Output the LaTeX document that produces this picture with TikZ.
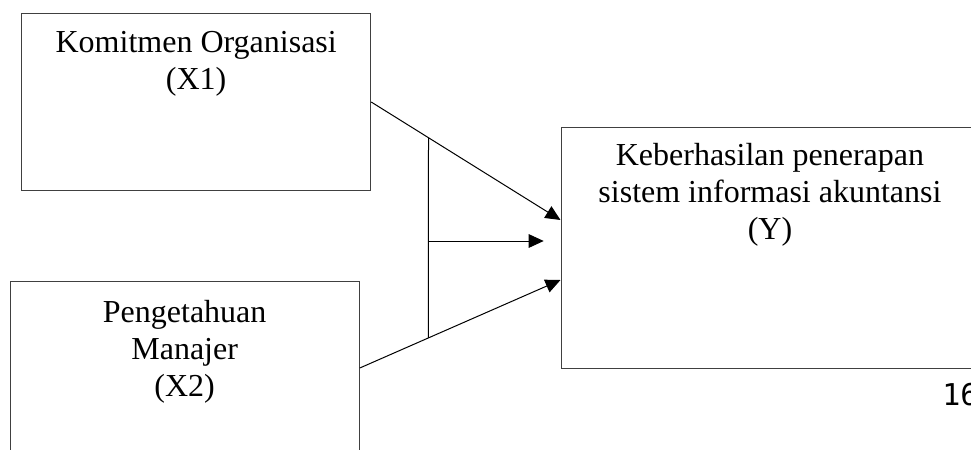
\documentclass[tikz,border=0pt]{standalone}
\usepackage{fontspec}
\setmainfont{Liberation Serif}
\newfontfamily\pagefont{DejaVu Sans Mono}
\usetikzlibrary{arrows.meta,positioning}
\tikzset{
  varbox/.style={draw=black!75,line width=0.5pt,inner sep=0pt},
  vartext/.style={anchor=north,align=center,inner sep=0pt,font=\fontsize{16}{18.5}\selectfont},
  link/.style={draw,line width=0.5pt,-{Triangle[length=7.5pt,width=6.8pt]}},
  bar/.style={draw,line width=0.5pt},
}
\begin{document}
\begin{tikzpicture}[x=0.5pt,y=-0.5pt]
\useasboundingbox (0,0) rectangle (971,450);
\clip (0,0) rectangle (971,450);
\node[varbox,minimum width=174.5pt,minimum height=88.7pt] (komitmen) at (196.2,102) {};
\node[vartext] (komitmentext) at ([yshift=-9pt]komitmen.north) {Komitmen Organisasi\\(X1)};
\node[varbox,minimum width=174.65pt,minimum height=86.3pt] (pengetahuan) at (184.65,368) {};
\node[vartext] (pengetahuantext) at ([yshift=-9.2pt]pengetahuan.north) {Pengetahuan\\Manajer\\(X2)};
\node[varbox,minimum width=209pt,minimum height=120.5pt] (sia) at (770,247.8) {};
\node[vartext] (siatext) at ([yshift=-8pt]sia.north) {Keberhasilan penerapan\\sistem informasi akuntansi\\(Y)};
\coordinate (siatop) at ([yshift=13.9pt]sia.west);
\coordinate (siamid) at ([xshift=-8.4pt,yshift=3.4pt]sia.west);
\coordinate (siabot) at ([yshift=-16.1pt]sia.west);
\draw[link] (komitmen.east) -- coordinate[pos=0.3027] (komitmenbar) (siatop);
\draw[link] (pengetahuan.east) -- coordinate[pos=0.342] (pengetahuanbar) (siabot);
\draw[bar] (komitmenbar) -- (pengetahuanbar);
\draw[link] (komitmenbar |- siamid) -- (siamid);
\node[anchor=base west,inner sep=0pt,font=\pagefont\fontsize{15}{18}\selectfont] (halaman) at (942,405) {16};
\end{tikzpicture}
\end{document}
